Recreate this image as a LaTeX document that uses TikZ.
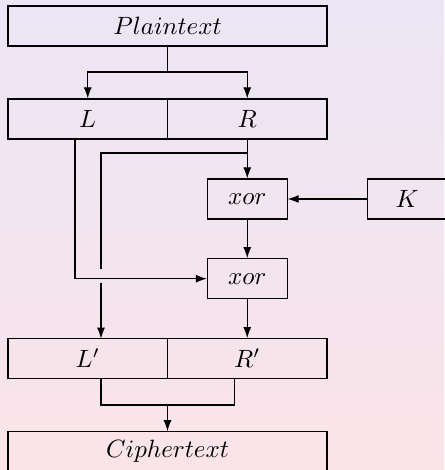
\documentclass[tikz,border=0pt]{standalone}
\usetikzlibrary{arrows.meta,calc}
\definecolor{bgtop}{RGB}{235,229,245}
\definecolor{bgbot}{RGB}{250,228,232}
\begin{document}
\begin{tikzpicture}[x=0.4pt,y=-0.4pt,
  blk/.style={draw,line width=0.45pt,rectangle,minimum height=16pt,inner sep=0pt,anchor=center},
  wide/.style={blk,minimum width=127.6pt},
  half/.style={blk,minimum width=63.8pt},
  small/.style={blk,minimum width=31.9pt},
  wire/.style={line width=0.42pt},
  arr/.style={wire,-{Latex[length=4.4pt,width=3.2pt]}}]
  % background
  \shade[top color=bgtop,bottom color=bgbot] (0,0) rectangle (444,470);
  \useasboundingbox (0,0) rectangle (444,470);
  % blocks
  \node[wide]  (P)  at (167.5,26)   {$Plaintext$};
  \node[half]  (L)  at (87.75,119)  {$L$};
  \node[half]  (R)  at (247.25,119) {$R$};
  \node[small] (X1) at (247.25,199) {$xor$};
  \node[small] (K)  at (407,199)    {$K$};
  \node[small] (X2) at (247.25,278.7) {$xor$};
  \node[half]  (Lp) at (87.75,358.6)  {$L'$};
  \node[half]  (Rp) at (247.25,358.6) {$R'$};
  \node[wide]  (C)  at (167.5,451.7)  {$Ciphertext$};
  % split of the plaintext
  \coordinate (s1) at (167.5,72);
  \draw[wire] (P.south) -- (s1);
  \draw[arr] (s1) -| (L.north);
  \draw[arr] (s1) -| (R.north);
  % round function
  \draw[arr] (R.south) -- (X1.north);
  \draw[arr] (K.west) -- (X1.east);
  \draw[arr] (X1.south) -- (X2.north);
  % R becomes the new L (crossing with a gap)
  \coordinate (b1) at (247.25,153);
  \coordinate (b2) at (101,153);
  \coordinate (g1) at (101,269);
  \coordinate (g2) at (101,283);
  \coordinate (lpin) at (101,338.6);
  \draw[wire] (b1) -- (b2) -- (g1);
  \draw[arr] (g2) -- (lpin);
  % L into the second xor
  \coordinate (l1) at (75,139);
  \coordinate (l2) at (75,278.7);
  \draw[arr] (l1) -- (l2) -- (X2.west);
  \draw[arr] (X2.south) -- (Rp.north);
  % join into the ciphertext
  \coordinate (j1) at (101,378.6);
  \coordinate (j2) at (101,405);
  \coordinate (j3) at (234.3,405);
  \coordinate (j4) at (234.3,378.6);
  \coordinate (jm) at (167.5,405);
  \draw[wire] (j1) -- (j2) -- (j3) -- (j4);
  \draw[arr] (jm) -- (C.north);
\end{tikzpicture}
\end{document}
